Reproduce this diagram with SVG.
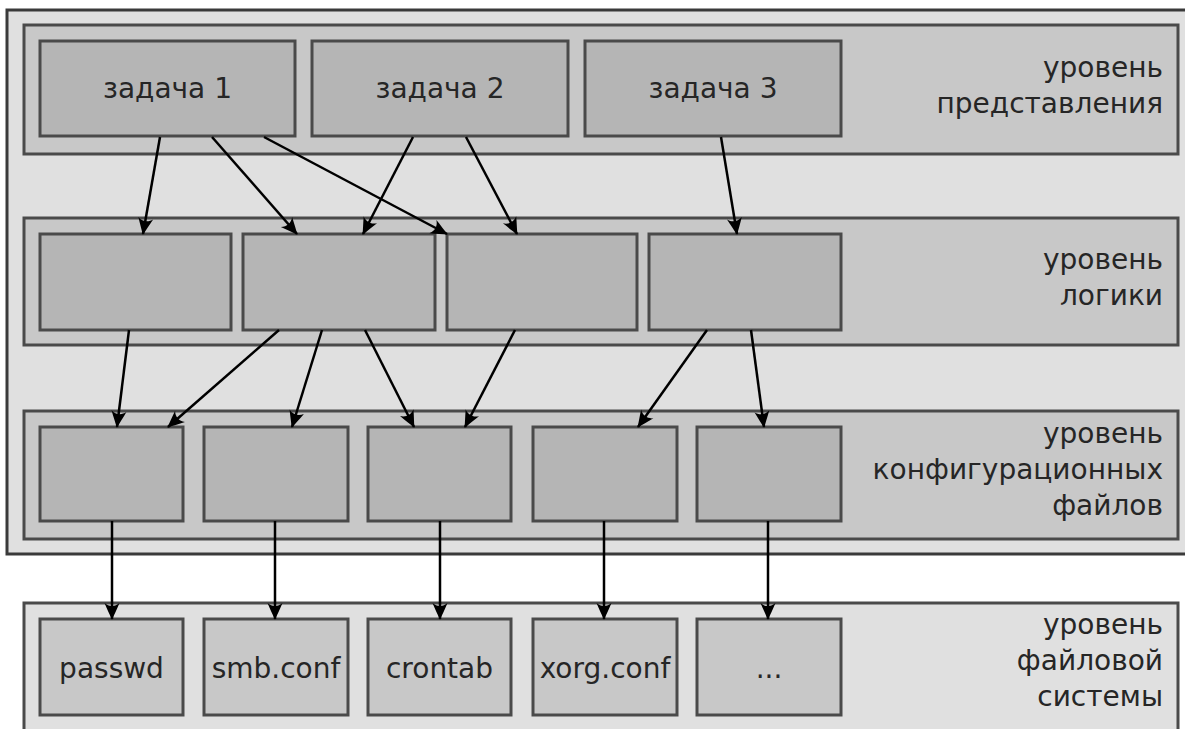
<svg xmlns="http://www.w3.org/2000/svg" width="1185" height="729" viewBox="0 0 1185 729">
<style>
.outer{fill:#e0e0e0;stroke:#3a3a3a;stroke-width:3}
.layer{fill:#c8c8c8;stroke:#4a4a4a;stroke-width:3}
.fslayer{fill:#e0e0e0;stroke:#4a4a4a;stroke-width:3}
.box{fill:#b5b5b5;stroke:#4a4a4a;stroke-width:3}
.fsbox{fill:#c8c8c8;stroke:#4a4a4a;stroke-width:3}
text{font-family:"DejaVu Sans","Liberation Sans",sans-serif;font-size:28px;fill:#262626}
.c{text-anchor:middle}
.r{text-anchor:end}
.con line{stroke:#000;stroke-width:2.5;marker-end:url(#ah)}
</style>
<defs>
<marker id="ah" markerUnits="userSpaceOnUse" markerWidth="20" markerHeight="18" viewBox="-18 -9 20 18" refX="0" refY="0" orient="auto">
<path d="M1,0 C-4,-2 -10,-5 -16,-7.5 C-12,-3 -12,3 -16,7.5 C-10,5 -4,2 1,0 Z" fill="#000"/>
</marker>
</defs>
<rect class="outer" x="7" y="10" width="1200" height="544"/>
<g id="layer-presentation">
<rect class="layer" x="24" y="25" width="1154" height="129"/>
<text class="r" x="1163" y="77">уровень</text>
<text class="r" x="1163" y="113">представления</text>
</g>
<g id="layer-logic">
<rect class="layer" x="24" y="218" width="1154" height="127"/>
<text class="r" x="1163" y="269">уровень</text>
<text class="r" x="1163" y="305">логики</text>
</g>
<g id="layer-config">
<rect class="layer" x="24" y="411" width="1154" height="128"/>
<text class="r" x="1163" y="443">уровень</text>
<text class="r" x="1163" y="479">конфигурационных</text>
<text class="r" x="1163" y="515">файлов</text>
</g>
<g id="layer-fs">
<rect class="fslayer" x="24" y="603" width="1154" height="140"/>
<text class="r" x="1163" y="634">уровень</text>
<text class="r" x="1163" y="670">файловой</text>
<text class="r" x="1163" y="706">системы</text>
</g>
<g id="task1"><rect class="box" x="40" y="41" width="255" height="95"/><text class="c" x="167.5" y="98">задача 1</text></g>
<g id="task2"><rect class="box" x="312" y="41" width="256" height="95"/><text class="c" x="440" y="98">задача 2</text></g>
<g id="task3"><rect class="box" x="585" y="41" width="256" height="95"/><text class="c" x="713" y="98">задача 3</text></g>
<g id="logic1"><rect class="box" x="40" y="234" width="191" height="96"/></g>
<g id="logic2"><rect class="box" x="243" y="234" width="192" height="96"/></g>
<g id="logic3"><rect class="box" x="447" y="234" width="190" height="96"/></g>
<g id="logic4"><rect class="box" x="649" y="234" width="192" height="96"/></g>
<g id="cfg1"><rect class="box" x="40" y="427" width="143" height="94"/></g>
<g id="cfg2"><rect class="box" x="204" y="427" width="144" height="94"/></g>
<g id="cfg3"><rect class="box" x="368" y="427" width="143" height="94"/></g>
<g id="cfg4"><rect class="box" x="533" y="427" width="144" height="94"/></g>
<g id="cfg5"><rect class="box" x="697" y="427" width="144" height="94"/></g>
<g id="fs1"><rect class="fsbox" x="40" y="619" width="143" height="96"/><text class="c" x="111.5" y="678">passwd</text></g>
<g id="fs2"><rect class="fsbox" x="204" y="619" width="144" height="96"/><text class="c" x="276" y="678">smb.conf</text></g>
<g id="fs3"><rect class="fsbox" x="368" y="619" width="143" height="96"/><text class="c" x="439.5" y="678">crontab</text></g>
<g id="fs4"><rect class="fsbox" x="533" y="619" width="144" height="96"/><text class="c" x="605" y="678">xorg.conf</text></g>
<g id="fs5"><rect class="fsbox" x="697" y="619" width="144" height="96"/><text class="c" x="769" y="678">...</text></g>
<g id="connectors" class="con">
<line x1="160" y1="137" x2="143" y2="234"/>
<line x1="212" y1="137" x2="297" y2="234"/>
<line x1="264" y1="137" x2="447" y2="234"/>
<line x1="413" y1="137" x2="363" y2="234"/>
<line x1="466" y1="137" x2="517" y2="234"/>
<line x1="721" y1="137" x2="737" y2="234"/>
<line x1="129" y1="330" x2="117" y2="427"/>
<line x1="279" y1="330" x2="168" y2="427"/>
<line x1="322" y1="330" x2="292" y2="427"/>
<line x1="365" y1="330" x2="414" y2="427"/>
<line x1="515" y1="330" x2="465" y2="427"/>
<line x1="707" y1="330" x2="638" y2="427"/>
<line x1="751" y1="330" x2="764" y2="427"/>
<line x1="112" y1="521" x2="112" y2="619"/>
<line x1="275" y1="521" x2="275" y2="619"/>
<line x1="440" y1="521" x2="440" y2="619"/>
<line x1="604" y1="521" x2="604" y2="619"/>
<line x1="768" y1="521" x2="768" y2="619"/>
</g>
</svg>
